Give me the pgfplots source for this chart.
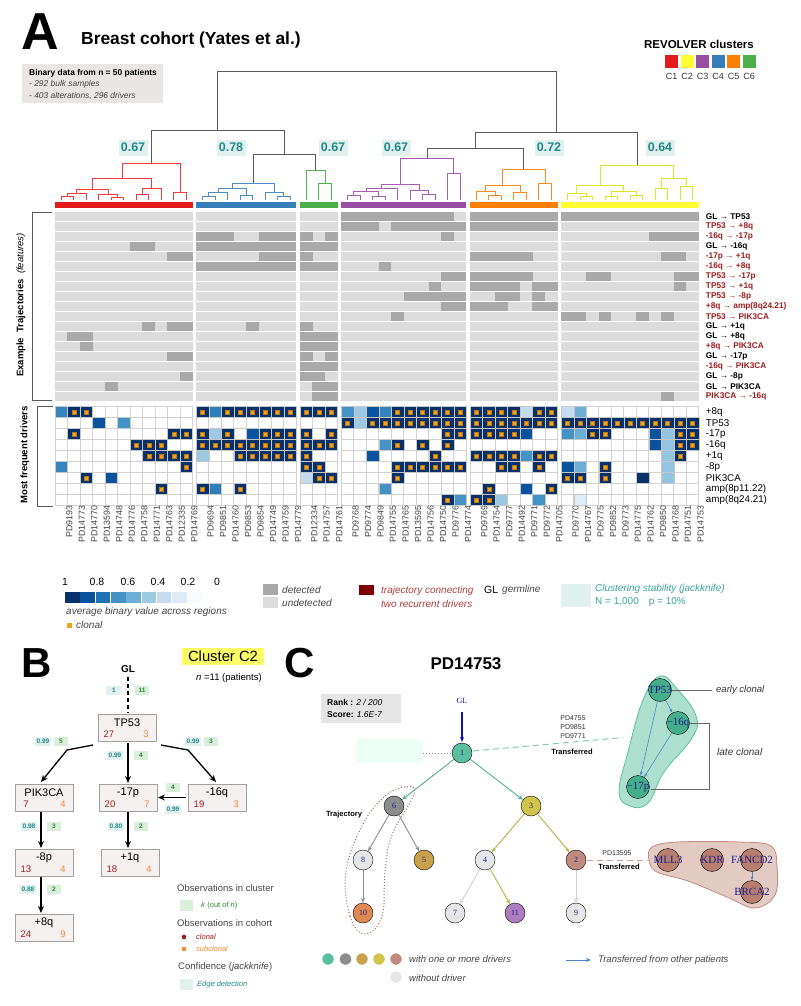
\documentclass[border=0pt]{standalone}
\usepackage{fontspec}
\setmainfont{Liberation Sans}
\newfontfamily\tnr{Liberation Serif}
\usepackage{pgfplots}
\usepackage{pgfplotstable}
\pgfplotsset{compat=1.18}
\usetikzlibrary{arrows.meta}

\newcommand\fs[1]{\fontsize{#1pt}{#1pt}\selectfont}

% cluster colours
\definecolor{cR}{HTML}{E41A1C}
\definecolor{cY}{HTML}{FFFF33}
\definecolor{cP}{HTML}{984EA3}
\definecolor{cB}{HTML}{377EB8}
\definecolor{cO}{HTML}{FF7F00}
\definecolor{cG}{HTML}{4DAF4A}
% dendrogram lines
\definecolor{dR}{HTML}{EE3B3B}
\definecolor{dB}{HTML}{4A8CC8}
\definecolor{dG}{HTML}{4CB54C}
\definecolor{dP}{HTML}{A85DB5}
\definecolor{dO}{HTML}{FF8A1E}
\definecolor{dY}{HTML}{E2E22A}
\definecolor{dK}{HTML}{5A5A5A}
% misc
\definecolor{trU}{HTML}{DCDCDC}
\definecolor{trD}{HTML}{A9A9A9}
\definecolor{gridc}{HTML}{D2D2D2}
\definecolor{dred}{HTML}{9B1C1C}
\definecolor{teal2}{HTML}{1F8A85}
\definecolor{tealtxt}{HTML}{3AA39C}
\definecolor{tealbg}{HTML}{E2F1F0}
\definecolor{clon}{HTML}{F7A21B}
\definecolor{infobg}{HTML}{E9E6E3}
\definecolor{txtg}{HTML}{444444}
\definecolor{boxbg}{HTML}{F6F1F1}
\definecolor{boxed}{HTML}{A0A0A0}
\definecolor{orgtxt}{HTML}{F08A30}
\definecolor{grnbg}{HTML}{D9EFDB}
\definecolor{grntxt}{HTML}{2E8B2E}
\definecolor{hlY}{HTML}{FFFF66}
\definecolor{navyt}{HTML}{1C1C8C}
\definecolor{nGrn}{HTML}{5BBF9F}
\definecolor{nDrv}{HTML}{45AE8A}
\definecolor{nGry}{HTML}{8C8C8C}
\definecolor{nTan}{HTML}{C9A04E}
\definecolor{nYel}{HTML}{D2C34A}
\definecolor{nRos}{HTML}{C08B7C}
\definecolor{nRosD}{HTML}{B87F6E}
\definecolor{nOra}{HTML}{E08A52}
\definecolor{nPur}{HTML}{B07CC0}
\definecolor{nLt}{HTML}{E6E6E6}
\definecolor{eBlue}{HTML}{4A86C8}

\pgfdeclareplotmark{tcell}{\pgfpathrectangle{\pgfpoint{-6.3pt}{-4.15pt}}{\pgfpoint{12.6pt}{8.3pt}}\pgfusepathqfill}
\pgfdeclareplotmark{dcell}{\pgfpathrectangle{\pgfpoint{-6.25pt}{-5.5pt}}{\pgfpoint{12.5pt}{11pt}}\pgfusepathqfillstroke}

% one U-shaped merge of the dendrogram: left x, left h, right x, right h, merge h, colour
\newcommand\mrg[6]{\addplot[#6, line width=0.9pt] coordinates {(#1,#2) (#1,#5) (#3,#5) (#3,#4)};}

% trajectories detected: row, group, column in group
\pgfplotstableread[row sep=\\]{
r g k\\
0 3 0\\0 3 1\\0 3 2\\0 3 3\\0 3 4\\0 3 5\\0 3 6\\0 3 7\\0 3 8\\
0 4 0\\0 4 1\\0 4 2\\0 4 3\\0 4 4\\0 4 5\\0 4 6\\
0 5 0\\0 5 1\\0 5 2\\0 5 3\\0 5 4\\0 5 5\\0 5 6\\0 5 7\\0 5 8\\0 5 9\\0 5 10\\
1 3 0\\1 3 1\\1 3 2\\1 3 4\\1 3 5\\1 3 6\\1 3 7\\1 3 8\\1 3 9\\
1 4 0\\1 4 1\\1 4 2\\1 4 3\\1 4 4\\1 4 5\\1 4 6\\
2 1 0\\2 1 1\\2 1 2\\2 1 5\\2 1 6\\2 1 7\\2 2 0\\2 2 2\\2 3 8\\2 5 7\\2 5 8\\2 5 9\\2 5 10\\
3 0 6\\3 0 7\\3 1 0\\3 1 1\\3 1 2\\3 1 3\\3 1 4\\3 1 5\\3 1 6\\3 1 7\\3 2 0\\3 2 1\\3 2 2\\
4 0 9\\4 0 10\\4 1 5\\4 1 6\\4 1 7\\4 2 0\\4 4 0\\4 4 1\\4 4 2\\4 4 3\\4 4 4\\4 5 8\\4 5 9\\
5 1 0\\5 1 1\\5 1 2\\5 1 3\\5 1 4\\5 1 5\\5 1 6\\5 1 7\\5 2 0\\5 2 1\\5 2 2\\5 3 3\\
6 3 8\\6 3 9\\6 4 0\\6 4 1\\6 4 2\\6 4 3\\6 4 4\\6 5 2\\6 5 3\\6 5 9\\6 5 10\\
7 3 7\\7 4 0\\7 4 1\\7 4 2\\7 4 3\\7 4 5\\7 4 6\\7 5 9\\
8 3 5\\8 3 6\\8 3 7\\8 3 8\\8 3 9\\8 4 2\\8 4 3\\8 4 5\\
9 3 8\\9 3 9\\9 4 0\\9 4 1\\9 4 2\\9 4 5\\9 4 6\\
10 3 4\\10 5 0\\10 5 1\\10 5 3\\10 5 6\\10 5 8\\
11 0 7\\11 0 9\\11 0 10\\11 1 4\\11 2 0\\
12 0 1\\12 0 2\\12 2 0\\12 2 1\\12 2 2\\
13 0 2\\13 2 0\\13 2 1\\13 2 2\\
14 0 9\\14 0 10\\14 2 0\\14 2 2\\
15 2 0\\15 2 1\\15 2 2\\
16 0 10\\16 2 0\\16 2 1\\
17 0 4\\17 2 1\\17 2 2\\
18 2 1\\18 2 2\\18 5 8\\
}\traj

% drivers: row, group, column in group, average value, clonal flag
\pgfplotstableread[row sep=\\]{
r g k v c\\
0 0 0 0.68 0\\0 0 1 1 1\\0 0 2 1 1\\
1 0 3 0.87 0\\1 0 5 0.62 0\\
2 0 1 1 1\\2 0 9 1 1\\2 0 10 1 1\\
3 0 6 1 1\\3 0 7 1 1\\3 0 8 1 1\\
4 0 7 1 1\\4 0 8 1 1\\4 0 9 1 1\\4 0 10 1 1\\
5 0 0 0.68 0\\5 0 10 1 1\\
6 0 2 1 1\\6 0 4 0.87 0\\
7 0 8 1 1\\
0 1 0 1 1\\0 1 1 0.7 0\\0 1 2 1 1\\0 1 3 1 1\\0 1 4 1 1\\0 1 5 1 1\\0 1 6 1 1\\0 1 7 1 1\\
2 1 0 1 1\\2 1 1 0.38 0\\2 1 2 1 1\\2 1 4 0.87 0\\2 1 5 1 1\\2 1 6 1 1\\2 1 7 1 1\\
3 1 0 1 1\\3 1 1 1 1\\3 1 2 1 1\\3 1 3 1 1\\3 1 4 1 1\\3 1 5 1 1\\3 1 6 1 1\\3 1 7 1 1\\
4 1 0 0.38 0\\4 1 3 1 1\\4 1 4 1 1\\4 1 5 1 1\\4 1 6 1 1\\4 1 7 1 1\\
7 1 0 1 1\\7 1 1 0.7 0\\7 1 3 1 1\\
0 2 0 1 1\\0 2 1 1 1\\0 2 2 1 1\\
2 2 0 1 1\\2 2 2 1 1\\
3 2 0 1 1\\3 2 1 1 1\\3 2 2 1 1\\
4 2 0 1 1\\
5 2 0 1 1\\5 2 1 1 1\\
6 2 0 0.25 0\\6 2 1 1 1\\6 2 2 1 1\\
0 3 0 0.62 0\\0 3 1 0.38 0\\0 3 2 0.87 0\\0 3 3 0.68 0\\0 3 4 1 1\\0 3 5 1 1\\0 3 6 1 1\\0 3 7 1 1\\0 3 8 1 1\\0 3 9 1 1\\
1 3 0 1 1\\1 3 1 0.38 0\\1 3 2 1 1\\1 3 3 1 1\\1 3 4 1 1\\1 3 5 1 1\\1 3 6 1 1\\1 3 7 1 1\\1 3 8 1 1\\1 3 9 1 1\\
2 3 8 1 1\\2 3 9 1 1\\
3 3 3 0.62 0\\3 3 4 1 1\\3 3 6 1 1\\3 3 8 1 1\\
4 3 2 0.87 0\\4 3 7 1 1\\
5 3 4 1 1\\5 3 5 1 1\\5 3 6 1 1\\5 3 7 1 1\\5 3 8 1 1\\5 3 9 1 1\\
6 3 4 1 1\\
7 3 3 0.62 0\\
8 3 8 1 1\\8 3 9 0.62 0\\
0 4 0 1 1\\0 4 1 1 1\\0 4 2 1 1\\0 4 3 1 1\\0 4 4 0.25 0\\0 4 5 1 1\\0 4 6 1 1\\
1 4 0 1 1\\1 4 1 1 1\\1 4 2 1 1\\1 4 3 1 1\\1 4 4 1 1\\1 4 5 1 1\\1 4 6 1 1\\
2 4 0 1 1\\2 4 1 1 1\\2 4 2 1 1\\2 4 3 1 1\\2 4 4 0.87 0\\
4 4 0 1 1\\4 4 1 1 1\\4 4 2 1 1\\4 4 3 1 1\\4 4 4 0.62 0\\4 4 5 1 1\\4 4 6 1 1\\
5 4 2 1 1\\5 4 3 1 1\\5 4 5 1 1\\
7 4 1 1 1\\7 4 4 0.87 0\\7 4 6 1 1\\
8 4 0 1 1\\8 4 1 1 1\\8 4 2 0.38 0\\8 4 5 0.62 0\\
0 5 0 0.25 0\\0 5 1 0.5 0\\
1 5 0 1 1\\1 5 1 1 1\\1 5 2 1 1\\1 5 3 1 1\\1 5 4 1 1\\1 5 5 1 1\\1 5 6 1 1\\1 5 7 1 1\\1 5 8 1 1\\1 5 9 1 1\\1 5 10 1 1\\
2 5 0 0.62 0\\2 5 1 0.5 0\\2 5 2 1 1\\2 5 3 1 1\\2 5 7 0.87 0\\2 5 8 0.4 0\\2 5 9 1 1\\2 5 10 1 1\\
3 5 7 0.87 0\\3 5 8 0.4 0\\3 5 9 1 1\\3 5 10 1 1\\
4 5 8 0.4 0\\4 5 9 1 1\\
5 5 0 0.87 0\\5 5 1 0.5 0\\5 5 3 1 1\\5 5 8 0.4 0\\
6 5 0 1 1\\6 5 1 1 1\\6 5 3 1 1\\6 5 6 1 0\\6 5 8 0.4 0\\
8 5 1 0.12 0\\
}\drv

\pgfplotsset{
  treenode/.style={only marks, mark=*, point meta=explicit symbolic, nodes near coords,
    mark options={draw=white, line width=0.6pt},
    every node near coord/.append style={anchor=center, inner sep=0pt, text=navyt, font=\tnr\fs{8}}},
}

\newcommand\bnode[5]{%
  \draw[draw=boxed, fill=boxbg, line width=1pt] (#1,#2) rectangle ++(58,27);
  \node[font=\fs{11}] at ({#1+29},{#2+8.5}) {#3};
  \node[font=\fs{9.5}, text=dred] at ({#1+11},{#2+20.5}) {#4};
  \node[font=\fs{9.5}, text=orgtxt] at ({#1+48},{#2+20.5}) {#5};
}
\newcommand\tlab[3]{\node[fill=tealbg, text=teal2, font=\bfseries\fs{6.5}, inner sep=0pt, minimum width=16pt, minimum height=9pt] at (#1,#2) {#3};}
\newcommand\glab[3]{\node[fill=grnbg, text=grntxt, font=\bfseries\fs{6.5}, inner sep=0pt, minimum width=14pt, minimum height=9pt] at (#1,#2) {#3};}

\begin{document}
\begin{tikzpicture}[x=1pt, y=-1pt,
  declare function={gs(\g)=11*(\g>0.5)+8*(\g>1.5)+3*(\g>2.5)+10*(\g>3.5)+7*(\g>4.5);}]
\path (0,0) rectangle (800,1006);

% ---------------- Panel A: headings ----------------
\node[anchor=base west, inner sep=0, font=\bfseries\fs{52}] at (21,50) {A};
\node[anchor=base west, inner sep=0, font=\bfseries\fs{17.4}] at (81,45) {Breast cohort (Yates et al.)};
\fill[infobg] (22,64) rectangle (163,103);
\node[anchor=west, inner sep=0, font=\bfseries\fs{8.4}] at (29,73.5) {Binary data from n = 50 patients};
\node[anchor=west, inner sep=0, font=\itshape\fs{8.4}, text=txtg] at (29,84.5) {- 292 bulk samples};
\node[anchor=west, inner sep=0, font=\itshape\fs{8.4}, text=txtg] at (29,95.5) {- 403 alterations, 296 drivers};

\node[anchor=base, inner sep=0, font=\bfseries\fs{11.5}] at (699,49) {REVOLVER clusters};
\foreach \x/\c/\n in {665/cR/1,680.5/cY/2,696/cP/3,711.5/cB/4,727/cO/5,742.5/cG/6}{
  \fill[\c] (\x,55) rectangle ++(13,13);
  \node[font=\fs{9}, inner sep=0, text=black!80] at ({\x+6.5},76) {C\n};
}

% ---------------- trajectory strips and driver grid ----------------
\foreach \r in {0,...,18}{
  \foreach \x/\w in {55/137.5,196.25/100,300/37.5,341.25/125,470/87.5,561.25/137.5}{
    \fill[trU] (\x,{212.3+10*\r}) rectangle ++(\w,8.3);
  }
}
\foreach \x/\n in {55/11,196.25/8,300/3,341.25/10,470/7,561.25/11}{
  \foreach \i in {0,...,\n} \draw[gridc, line width=0.6pt] ({\x+12.5*\i},406.7) -- ++(0,99);
  \foreach \j in {0,...,9} \draw[gridc, line width=0.6pt] (\x,{406.7+11*\j}) -- ++({12.5*\n},0);
}
\foreach \x/\w/\c in {55/137.5/cR,196.25/100/cB,300/37.5/cG,341.25/125/cP,470/87.5/cO,561.25/137.5/cY}{
  \fill[\c] (\x,201.7) rectangle ++(\w,6.6);
}

% ---------------- dendrogram ----------------
\begin{axis}[at={(55pt,-200pt)}, anchor=south west, x=12.5pt, y=1pt,
  xmin=0, xmax=51.5, ymin=0, ymax=130, hide axis, clip=false]
% C1
\mrg{0.5}{0}{1.5}{0}{4}{dR}
\mrg{1.0}{4}{2.5}{0}{7}{dR}
\mrg{4.5}{0}{5.5}{0}{3}{dR}
\mrg{3.5}{0}{5.0}{3}{6}{dR}
\mrg{1.75}{7}{4.25}{6}{11}{dR}
\mrg{6.5}{0}{7.5}{0}{6}{dR}
\mrg{7.0}{6}{8.5}{0}{12}{dR}
\mrg{3.0}{11}{7.75}{12}{22}{dR}
\mrg{9.5}{0}{10.5}{0}{8}{dR}
\mrg{5.375}{22}{10.0}{8}{37}{dR}
% C4
\mrg{11.8}{0}{12.8}{0}{4}{dB}
\mrg{12.3}{4}{13.8}{0}{8}{dB}
\mrg{14.8}{0}{15.8}{0}{5}{dB}
\mrg{13.05}{8}{15.3}{5}{12}{dB}
\mrg{17.8}{0}{18.8}{0}{4}{dB}
\mrg{16.8}{0}{18.3}{4}{8}{dB}
\mrg{14.175}{12}{17.55}{8}{17}{dB}
% C6
\mrg{21.1}{0}{22.1}{0}{17}{dG}
\mrg{20.1}{0}{21.6}{17}{30}{dG}
% C3
\mrg{23.4}{0}{24.4}{0}{5}{dP}
\mrg{25.4}{0}{26.4}{0}{4}{dP}
\mrg{23.9}{5}{25.9}{4}{9}{dP}
\mrg{24.9}{9}{27.4}{0}{12}{dP}
\mrg{29.4}{0}{30.4}{0}{6}{dP}
\mrg{28.4}{0}{29.9}{6}{10}{dP}
\mrg{26.15}{12}{29.15}{10}{16}{dP}
\mrg{31.4}{0}{32.4}{0}{27}{dP}
\mrg{27.65}{16}{31.9}{27}{42}{dP}
% C5
\mrg{34.7}{0}{35.7}{0}{5}{dO}
\mrg{33.7}{0}{35.2}{5}{9}{dO}
\mrg{36.7}{0}{37.7}{0}{8}{dO}
\mrg{34.45}{9}{37.2}{8}{15}{dO}
\mrg{38.7}{0}{39.7}{0}{17}{dO}
\mrg{35.825}{15}{39.2}{17}{31}{dO}
% C2
\mrg{42}{0}{43}{0}{4}{dY}
\mrg{41}{0}{42.5}{4}{7}{dY}
\mrg{44}{0}{45}{0}{4}{dY}
\mrg{46}{0}{47}{0}{5}{dY}
\mrg{44.5}{4}{46.5}{5}{9}{dY}
\mrg{41.75}{7}{45.5}{9}{15}{dY}
\mrg{48}{0}{49}{0}{12}{dY}
\mrg{50}{0}{51}{0}{14}{dY}
\mrg{48.5}{12}{50.5}{14}{22}{dY}
\mrg{43.625}{15}{49.5}{22}{35}{dY}
% upper tree
\mrg{15.8625}{17}{20.85}{30}{46}{dK}
\mrg{7.6875}{37}{18.3563}{46}{70}{dK}
\mrg{29.775}{42}{37.5125}{31}{52}{dK}
\mrg{33.6438}{52}{46.5625}{35}{68}{dK}
\mrg{13.0219}{70}{40.1031}{68}{129}{dK}
\end{axis}

\foreach \x/\v in {133/0.67,231/0.78,333/0.67,396/0.67,549/0.72,660/0.64}{
  \node[fill=tealbg, text=teal2, font=\bfseries\fs{12.5}, minimum width=29pt, minimum height=16pt, inner sep=0pt] at (\x,147.5) {\v};
}

% ---------------- trajectories ----------------
\begin{axis}[at={(55pt,-212.3pt)}, anchor=north west, x=12.5pt, y=10pt,
  xmin=0, xmax=51.5, ymin=0, ymax=19, y dir=reverse, clip=false,
  axis line style={draw=none}, tick style={draw=none}, xtick=\empty,
  ytick={0.415,1.415,2.415,3.415,4.415,5.415,6.415,7.415,8.415,9.415,10.415,11.415,12.415,13.415,14.415,15.415,16.415,17.415,18.415},
  yticklabel pos=right,
  yticklabels={GL → TP53,\textcolor{dred}{TP53 → +8q},\textcolor{dred}{-16q → -17p},GL → -16q,\textcolor{dred}{-17p → +1q},\textcolor{dred}{-16q → +8q},\textcolor{dred}{TP53 → -17p},\textcolor{dred}{TP53 → +1q},\textcolor{dred}{TP53 → -8p},\textcolor{dred}{+8q → amp(8q24.21)},\textcolor{dred}{TP53 → PIK3CA},GL → +1q,GL → +8q,\textcolor{dred}{+8q → PIK3CA},GL → -17p,\textcolor{dred}{-16q → PIK3CA},GL → -8p,GL → PIK3CA,\textcolor{dred}{PIK3CA → -16q}},
  yticklabel style={anchor=west, font=\bfseries\fs{8.3}, inner sep=0pt, xshift=7pt}]
\addplot[only marks, mark=tcell, color=trD]
  table[x expr={gs(\thisrow{g})+0.3*\thisrow{g}+\thisrow{k}+0.5}, y expr={\thisrow{r}+0.415}] {\traj};
\end{axis}

% ---------------- most frequent drivers ----------------
\begin{axis}[at={(55pt,-406.7pt)}, anchor=north west, x=12.5pt, y=11pt,
  xmin=0, xmax=51.5, ymin=0, ymax=9, y dir=reverse, clip=false,
  axis line style={draw=none}, tick style={draw=none},
  colormap={blues}{rgb255=(247,251,255) rgb255=(222,235,247) rgb255=(198,219,239) rgb255=(158,202,225) rgb255=(107,174,214) rgb255=(66,146,198) rgb255=(33,113,181) rgb255=(8,81,156) rgb255=(8,48,107)},
  point meta min=0, point meta max=1,
  xtick={0.5,1.5,2.5,3.5,4.5,5.5,6.5,7.5,8.5,9.5,10.5,11.8,12.8,13.8,14.8,15.8,16.8,17.8,18.8,20.1,21.1,22.1,23.4,24.4,25.4,26.4,27.4,28.4,29.4,30.4,31.4,32.4,33.7,34.7,35.7,36.7,37.7,38.7,39.7,41,42,43,44,45,46,47,48,49,50,51},
  xticklabels={PD9193,PD14773,PD14770,PD13594,PD14748,PD14776,PD14758,PD14771,PD14763,PD12335,PD14769,PD9694,PD9851,PD14760,PD9853,PD9854,PD14749,PD14759,PD14779,PD12334,PD14757,PD14761,PD9768,PD9774,PD9849,PD14755,PD14765,PD13595,PD14756,PD14750,PD9776,PD14774,PD9769,PD14754,PD9777,PD14492,PD9771,PD9772,PD14705,PD9770,PD14767,PD9775,PD9852,PD9773,PD14775,PD14762,PD9850,PD14768,PD14751,PD14753},
  xticklabel style={rotate=90, anchor=east, font=\fs{8.8}, text=black!75, inner sep=0pt, yshift=-8pt},
  ytick={0.5,1.5,2.5,3.5,4.5,5.5,6.5,7.5,8.5},
  yticklabels={+8q,TP53,-17p,-16q,+1q,-8p,PIK3CA,amp(8p11.22),amp(8q24.21)},
  yticklabel pos=right,
  yticklabel style={anchor=west, font=\fs{9.8}, inner sep=0pt, xshift=7pt}]
\addplot[scatter, only marks, mark=dcell, line width=0.5pt, point meta=explicit,
  scatter/use mapped color={draw=black!22, fill=mapped color}]
  table[x expr={gs(\thisrow{g})+0.3*\thisrow{g}+\thisrow{k}+0.5}, y expr={\thisrow{r}+0.5}, meta=v] {\drv};
\addplot[only marks, mark=square*, mark size=2.1pt,
  mark options={fill=clon, draw=clon!75!black, line width=0.3pt},
  restrict expr to domain={\thisrow{c}}{0.5:1.5}]
  table[x expr={gs(\thisrow{g})+0.3*\thisrow{g}+\thisrow{k}+0.5}, y expr={\thisrow{r}+0.5}] {\drv};
\end{axis}

% brackets and side titles
\draw[black!65, line width=0.9pt] (52,212) -- (32,212) -- (32,400) -- (52,400);
\draw[black!65, line width=0.9pt] (53,406.5) -- (37,406.5) -- (37,506) -- (53,506);
\node[rotate=90, font=\fs{9.5}, inner sep=0] at (21,305) {\textbf{Example\ \ Trajectories}\ \ \textit{(features)}};
\node[rotate=90, font=\bfseries\fs{9.5}, inner sep=0] at (25,455) {Most frequent drivers};

% ---------------- legend of panel A ----------------
\foreach \t/\x in {1/65,0.8/97,0.6/128,0.4/158,0.2/188,0/217}{
  \node[font=\fs{10.5}, inner sep=0] at (\x,582) {\t};
}
\foreach \i/\c in {0/{8,48,107},1/{8,81,156},2/{33,113,181},3/{66,146,198},4/{107,174,214},5/{158,202,225},6/{198,219,239},7/{222,235,247},8/{247,251,255}}{
  \definecolor{sw}{RGB}{\c}
  \fill[sw] ({65+15.3*\i},592) rectangle ++(14.6,11);
}
\node[anchor=west, inner sep=0, font=\itshape\fs{10}, text=txtg] at (66,612) {average binary value across regions};
\fill[clon] (66.5,622.5) rectangle ++(5,5);
\node[anchor=west, inner sep=0, font=\itshape\fs{10}, text=txtg] at (76,625) {clonal};

\fill[trD] (263,584) rectangle (278,595);
\fill[trU] (263,597) rectangle (278,608);
\node[anchor=west, inner sep=0, font=\itshape\fs{10}, text=txtg] at (282,590) {detected};
\node[anchor=west, inner sep=0, font=\itshape\fs{10}, text=txtg] at (282,603) {undetected};
\fill[black!50!red] (359,585) rectangle (374,595);
\node[anchor=west, inner sep=0, font=\itshape\fs{10}, text=dred!85] at (381,591) {trajectory connecting};
\node[anchor=west, inner sep=0, font=\itshape\fs{10}, text=dred!85] at (381,604) {two recurrent drivers};
\node[anchor=west, inner sep=0, font=\fs{10.5}] at (484,590) {GL};
\node[anchor=west, inner sep=0, font=\itshape\fs{10}, text=txtg] at (502,590) {germline};
\fill[tealbg] (561,584) rectangle (591,607);
\node[anchor=west, inner sep=0, font=\itshape\fs{10}, text=tealtxt] at (595,589) {Clustering stability (jackknife)};
\node[anchor=west, inner sep=0, font=\fs{10}, text=tealtxt] at (595,602) {N = 1,000\quad p = 10\%};

% ---------------- Panel B ----------------
\node[anchor=base west, inner sep=0, font=\bfseries\fs{42}] at (21,677) {B};
\node[fill=hlY, font=\fs{14.8}, minimum width=82pt, minimum height=17pt, inner sep=0] at (223,656.5) {Cluster C2};
\node[font=\fs{9.5}, inner sep=0] at (229,678) {\textit{n} =11 (patients)};
\node[font=\bfseries\fs{10}, inner sep=0] at (128,669) {GL};
\draw[black, line width=1.4pt, dash pattern=on 4pt off 3pt] (128,677) -- (128,713);
\tlab{114}{690.5}{1}
\glab{142}{690.5}{11}

\draw[line width=1.3pt, -{Stealth[length=7pt, width=6pt]}] (93,745) -- (67,750) -- (41,782);
\draw[line width=1.3pt, -{Stealth[length=7pt, width=6pt]}] (128,743) -- (128,783);
\draw[line width=1.3pt, -{Stealth[length=7pt, width=6pt]}] (161,745) -- (188,750) -- (216,782);
\draw[line width=1.3pt, -{Stealth[length=7pt, width=6pt]}] (186,797.5) -- (158,797.5);
\draw[line width=1.3pt, -{Stealth[length=7pt, width=6pt]}] (41,812) -- (41,848);
\draw[line width=1.3pt, -{Stealth[length=7pt, width=6pt]}] (128,812) -- (128,848);
\draw[line width=1.3pt, -{Stealth[length=7pt, width=6pt]}] (41,877) -- (41,913);

\bnode{98}{714}{TP53}{27}{3}
\bnode{15}{784}{PIK3CA}{7}{4}
\bnode{99}{784}{-17p}{20}{7}
\bnode{188}{784}{-16q}{19}{3}
\bnode{15}{849}{-8p}{13}{4}
\bnode{101}{849}{+1q}{18}{4}
\bnode{15}{914}{+8q}{24}{9}

\tlab{43}{741}{0.99}\glab{61}{741}{5}
\tlab{115}{755}{0.99}\glab{141}{755}{4}
\tlab{193}{741}{0.99}\glab{211}{741}{3}
\glab{173}{787}{4}
\tlab{173}{809}{0.99}
\tlab{29}{826}{0.98}\glab{54}{826}{3}
\tlab{116}{826}{0.80}\glab{141}{826}{2}
\tlab{28}{889}{0.88}\glab{54}{889}{2}

\node[anchor=west, inner sep=0, font=\fs{9.5}, text=txtg] at (177,888) {Observations in cluster};
\fill[grnbg] (180,900) rectangle (193,911);
\node[anchor=west, inner sep=0, font=\itshape\fs{7.5}, text=grntxt] at (201,906) {k \textup{(out of} n\textup{)}};
\node[anchor=west, inner sep=0, font=\fs{9.5}, text=txtg] at (177,923) {Observations in cohort};
\fill[dred] (184,937) circle (2.3);
\node[anchor=west, inner sep=0, font=\itshape\fs{7.5}, text=dred] at (196,937) {clonal};
\fill[orgtxt] (184,949) circle (2.3);
\node[anchor=west, inner sep=0, font=\itshape\fs{7.5}, text=orgtxt] at (196,949) {subclonal};
\node[anchor=west, inner sep=0, font=\fs{9.5}, text=txtg] at (178,967) {Confidence (\textit{jackknife})};
\fill[tealbg] (180,979) rectangle (193,990);
\node[anchor=west, inner sep=0, font=\itshape\fs{7.5}, text=teal2] at (197,985) {Edge detection};

% ---------------- Panel C ----------------
\node[anchor=base west, inner sep=0, font=\bfseries\fs{42}] at (284,677) {C};
\node[font=\bfseries\fs{17}, inner sep=0] at (466,664) {PD14753};
\fill[black!10] (321,694) rectangle (401,723);
\node[anchor=west, inner sep=0, font=\fs{8.5}] at (327,702) {\textbf{Rank :} \textit{2 / 200}};
\node[anchor=west, inner sep=0, font=\fs{8.5}] at (327,715) {\textbf{Score:} \textit{1.6E-7}};

\fill[green!40!cyan!8] (357,739) rectangle (423,763);
\draw[black!45, dotted, line width=1pt] (423,753) -- (451,753);
\node[font=\tnr\fs{8}, text=navyt!70!blue, inner sep=0] at (462,701) {GL};
\draw[navyt!60!blue, line width=1.1pt, -{Stealth[length=5pt, width=4pt]}] (462,712) -- (462,742);

\draw[nGrn!80, dashed, line width=1pt, dash pattern=on 6pt off 4pt] (473,751) -- (623,737.5);
\foreach \t/\y in {PD4755/718,PD9851/727,PD9771/736}{\node[font=\fs{7}, inner sep=0, text=black!80] at (573,\y) {\t};}
\node[font=\bfseries\fs{7.5}, inner sep=0] at (572,751.5) {Transferred};

\filldraw[fill=nGrn!50, draw=nGrn, line width=0.8pt] plot[smooth cycle, tension=0.7] coordinates {(660,676) (678,690) (696,716) (692,738) (664,772) (648,803) (630,806) (619,792) (628,752) (643,700)};
\draw[black!60, line width=0.8pt] (672,690) -- (712,690);
\draw[black!60, line width=0.8pt] (690,723) -- (709,723) -- (709,789) -- (651,789);
\node[anchor=west, inner sep=0, font=\itshape\fs{9.5}, text=black!80] at (716,690) {early clonal};
\node[anchor=west, inner sep=0, font=\itshape\fs{10}, text=black!80] at (717,752) {late clonal};

\filldraw[fill=nRos!45, draw=nRos, line width=0.8pt] plot[smooth cycle, tension=0.6] coordinates {(652,847) (678,842) (740,842) (771,846) (777,866) (775,895) (755,908) (727,897) (688,881) (657,872) (649,860)};
\draw[nRos!80, dashed, line width=1pt, dash pattern=on 6pt off 4pt] (587,860) -- (650,860);
\node[font=\fs{7}, inner sep=0, text=black!80] at (617,853) {PD13595};
\node[font=\bfseries\fs{7.5}, inner sep=0] at (619,867) {Transferred};

\draw[dotted, draw=nRos!80!black, line width=1pt] plot[smooth cycle, tension=0.7] coordinates {(365,934) (350,916) (346,872) (362,826) (384,797) (405,787) (414,794) (392,835) (385,872) (382,916)};
\node[font=\bfseries\fs{7.5}, inner sep=0] at (344,815) {Trajectory};

% invisible node outlines for the edges
\foreach \n/\x/\y in {a1/462/753,a6/394/806,a3/531/806,a8/363/860,a5/424/860,a4/485/860,a2/576/860,a10/363/913,a7/455/913,a11/515/913,a9/576/913}{
  \node[circle, minimum size=20pt, inner sep=0] (\n) at (\x,\y) {};
}
\foreach \n/\x/\y in {bT/660/690,bQ/678/723,bP/638/787,bF/752/860,bB/752/892}{
  \node[circle, minimum size=23pt, inner sep=0] (\n) at (\x,\y) {};
}
\draw[nGrn!90!black, line width=0.9pt, -{Stealth[length=5pt, width=4pt]}] (a1) -- (a6);
\draw[nGrn!90!black, line width=0.9pt, -{Stealth[length=5pt, width=4pt]}] (a1) -- (a3);
\draw[nGry, line width=0.9pt, -{Stealth[length=5pt, width=4pt]}] (a6) -- (a8);
\draw[nGry, line width=0.9pt, -{Stealth[length=5pt, width=4pt]}] (a6) -- (a5);
\draw[nYel!90!black, line width=0.9pt, -{Stealth[length=5pt, width=4pt]}] (a3) -- (a4);
\draw[nYel!90!black, line width=0.9pt, -{Stealth[length=5pt, width=4pt]}] (a3) -- (a2);
\draw[nGry, line width=0.9pt, -{Stealth[length=5pt, width=4pt]}] (a8) -- (a10);
\draw[black!18, line width=0.9pt, -{Stealth[length=5pt, width=4pt]}] (a4) -- (a7);
\draw[nYel!90!black, line width=0.9pt, -{Stealth[length=5pt, width=4pt]}] (a4) -- (a11);
\draw[black!18, line width=0.9pt, -{Stealth[length=5pt, width=4pt]}] (a2) -- (a9);
\draw[eBlue, line width=0.6pt, -{Stealth[length=4pt, width=3pt]}] (bT) -- (bQ);
\draw[eBlue, line width=0.6pt, -{Stealth[length=4pt, width=3pt]}] (bT) -- (bP);
\draw[eBlue, line width=0.6pt, -{Stealth[length=4pt, width=3pt]}] (bQ) -- (bP);
\draw[eBlue, line width=0.6pt, -{Stealth[length=4pt, width=3pt]}] (bF) -- (bB);

\draw[eBlue, line width=0.8pt, -{Stealth[length=5pt, width=4pt]}] (566,960) -- (591,960);
\node[anchor=west, inner sep=0, font=\itshape\fs{9.5}, text=txtg] at (598,960) {Transferred from other patients};
\node[anchor=west, inner sep=0, font=\itshape\fs{9.5}, text=txtg] at (409,959) {with one or more drivers};
\node[anchor=west, inner sep=0, font=\itshape\fs{9.5}, text=txtg] at (409,978) {without driver};

% nodes of the tree, in page pixel coordinates
\begin{axis}[at={(0pt,0pt)}, anchor=north west, x=1pt, y=1pt,
  xmin=0, xmax=800, ymin=0, ymax=1006, y dir=reverse, hide axis, clip=false]
\addplot[treenode, mark size=10pt, mark options={fill=nGrn}] table[meta=l, row sep=\\] {x y l\\462 753 1\\};
\addplot[treenode, mark size=10pt, mark options={fill=nGry}] table[meta=l, row sep=\\] {x y l\\394 806 6\\};
\addplot[treenode, mark size=10pt, mark options={fill=nYel}] table[meta=l, row sep=\\] {x y l\\531 806 3\\};
\addplot[treenode, mark size=10pt, mark options={fill=nTan}] table[meta=l, row sep=\\] {x y l\\424 860 5\\};
\addplot[treenode, mark size=10pt, mark options={fill=nRos}] table[meta=l, row sep=\\] {x y l\\576 860 2\\};
\addplot[treenode, mark size=10pt, mark options={fill=nOra}] table[meta=l, row sep=\\] {x y l\\363 913 10\\};
\addplot[treenode, mark size=10pt, mark options={fill=nPur}] table[meta=l, row sep=\\] {x y l\\515 913 11\\};
\addplot[treenode, mark size=10pt, mark options={fill=nLt}] table[meta=l, row sep=\\] {x y l\\363 860 8\\485 860 4\\455 913 7\\576 913 9\\};
\addplot[treenode, mark size=11.5pt, mark options={fill=nDrv},
  every node near coord/.append style={font=\tnr\fs{11}}] table[meta=l, row sep=\\] {x y l\\660 690 TP53\\678 723 −16q\\638 787 −17p\\};
\addplot[treenode, mark size=11.5pt, mark options={fill=nRosD},
  every node near coord/.append style={font=\tnr\fs{11}}] table[meta=l, row sep=\\] {x y l\\668 860 MLL3\\712 860 KDR\\752 860 FANCD2\\752 892 BRCA2\\};
% legend dots
\addplot[only marks, mark=*, mark size=6pt, mark options={fill=nGrn, draw=white}] coordinates {(328,959)};
\addplot[only marks, mark=*, mark size=6pt, mark options={fill=nGry, draw=white}] coordinates {(345.5,959)};
\addplot[only marks, mark=*, mark size=6pt, mark options={fill=nTan, draw=white}] coordinates {(362,959)};
\addplot[only marks, mark=*, mark size=6pt, mark options={fill=nYel, draw=white}] coordinates {(379,959)};
\addplot[only marks, mark=*, mark size=6pt, mark options={fill=nRos, draw=white}] coordinates {(396,959)};
\addplot[only marks, mark=*, mark size=6pt, mark options={fill=nLt, draw=white}] coordinates {(396,977)};
\end{axis}
\end{tikzpicture}
\end{document}
